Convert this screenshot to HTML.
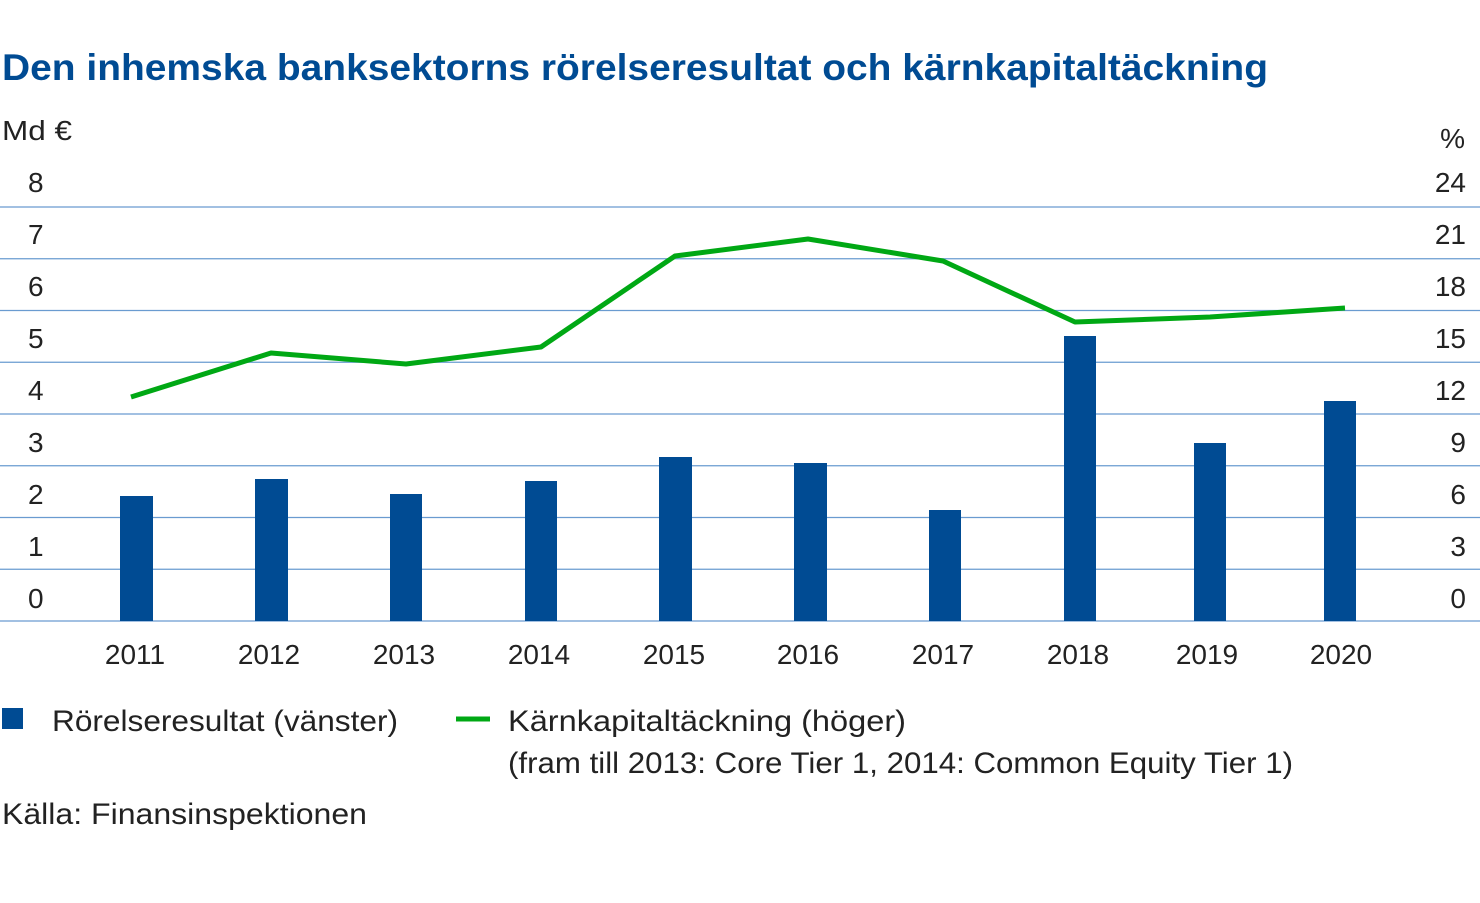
<!DOCTYPE html>
<html><head><meta charset="utf-8"><style>body{margin:0;background:#fff}svg{display:block}</style></head>
<body>
<svg width="1480" height="903" xmlns="http://www.w3.org/2000/svg" font-family="Liberation Sans, sans-serif">
<text x="2" y="80" font-size="37" font-weight="bold" fill="#004b93" textLength="1266" lengthAdjust="spacingAndGlyphs">Den inhemska banksektorns rörelseresultat och kärnkapitaltäckning</text>
<g font-size="28" fill="#222">
<text x="2" y="140" textLength="70" lengthAdjust="spacingAndGlyphs">Md €</text>
<text x="1465" y="148" text-anchor="end">%</text>
</g>
<g stroke="#6a9bd0" stroke-width="1.2">
<line x1="0" x2="1480" y1="207" y2="207"/><line x1="0" x2="1480" y1="258.75" y2="258.75"/>
<line x1="0" x2="1480" y1="310.5" y2="310.5"/><line x1="0" x2="1480" y1="362.25" y2="362.25"/>
<line x1="0" x2="1480" y1="414" y2="414"/><line x1="0" x2="1480" y1="465.75" y2="465.75"/>
<line x1="0" x2="1480" y1="517.5" y2="517.5"/><line x1="0" x2="1480" y1="569.25" y2="569.25"/>
<line x1="0" x2="1480" y1="621" y2="621"/>
</g>
<g font-size="28" fill="#222">
<text x="28" y="192">8</text><text x="28" y="244">7</text><text x="28" y="296">6</text><text x="28" y="348">5</text><text x="28" y="400">4</text><text x="28" y="452">3</text><text x="28" y="504">2</text><text x="28" y="556">1</text><text x="28" y="608">0</text>
<g text-anchor="end"><text x="1466" y="192">24</text><text x="1466" y="244">21</text><text x="1466" y="296">18</text><text x="1466" y="348">15</text><text x="1466" y="400">12</text><text x="1466" y="452">9</text><text x="1466" y="504">6</text><text x="1466" y="556">3</text><text x="1466" y="608">0</text></g>
<g text-anchor="middle"><text x="135" y="664">2011</text><text x="269" y="664">2012</text><text x="404" y="664">2013</text><text x="539" y="664">2014</text><text x="674" y="664">2015</text><text x="808" y="664">2016</text><text x="943" y="664">2017</text><text x="1078" y="664">2018</text><text x="1207" y="664">2019</text><text x="1341" y="664">2020</text></g>
</g>
<g fill="#004b93">
<rect x="120" y="496" width="33" height="125"/><rect x="255" y="479" width="33" height="142"/>
<rect x="390" y="494" width="32" height="127"/><rect x="525" y="481" width="32" height="140"/>
<rect x="659" y="457" width="33" height="164"/><rect x="794" y="463" width="33" height="158"/>
<rect x="929" y="510" width="32" height="111"/><rect x="1064" y="336" width="32" height="285"/>
<rect x="1194" y="443" width="32" height="178"/><rect x="1324" y="401" width="32" height="220"/>
</g>
<polyline fill="none" stroke="#00a814" stroke-width="5" stroke-linejoin="round" points="131,397 271,353 406,364 541,347 675,256 808,239 943,261 1075,322 1210,317 1345,308"/>
<rect x="2" y="708" width="21" height="21" fill="#004b93"/>
<line x1="456" x2="490" y1="719" y2="719" stroke="#00a814" stroke-width="5"/>
<g font-size="30" fill="#222">
<text x="52" y="731" textLength="346" lengthAdjust="spacingAndGlyphs">Rörelseresultat (vänster)</text>
<text x="508" y="731" textLength="398" lengthAdjust="spacingAndGlyphs">Kärnkapitaltäckning (höger)</text>
<text x="508" y="773" textLength="785" lengthAdjust="spacingAndGlyphs">(fram till 2013: Core Tier 1, 2014: Common Equity Tier 1)</text>
<text x="2" y="824" textLength="365" lengthAdjust="spacingAndGlyphs">Källa: Finansinspektionen</text>
</g>
</svg>
</body></html>
